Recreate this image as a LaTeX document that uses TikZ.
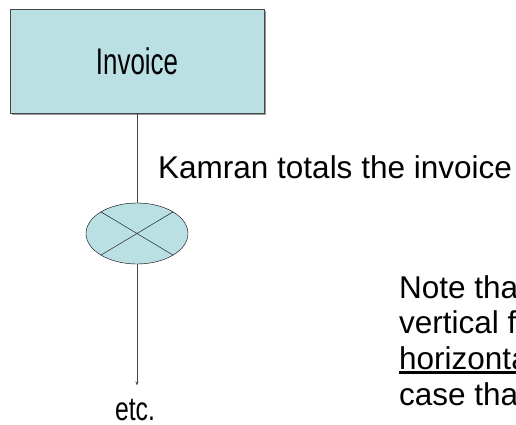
\documentclass[tikz,border=0pt]{standalone}
\usepackage{fontspec}
\setmainfont{Liberation Sans}
\usepackage{graphicx}
\usepackage{tikz}
\usetikzlibrary{shapes.geometric,shadows,arrows.meta}
\definecolor{paleblue}{RGB}{187, 224, 227}
\definecolor{lineg}{RGB}{70, 70, 70}

% thick underline as in the slide
\newcommand\thickul[1]{\setbox0\hbox{#1}\rlap{\rule[-4.3pt]{\wd0}{2.6pt}}\box0}

\tikzset{
  docbox/.style={draw=lineg, fill=paleblue, minimum width=254pt, minimum height=104pt,
    drop shadow={shadow xshift=2pt, shadow yshift=-2pt, fill=gray!80, opacity=1}},
  xcirc/.style={ellipse, draw=black, fill=paleblue, minimum width=102pt, minimum height=61pt, inner sep=0pt},
  flow/.style={draw=lineg, line width=0.7pt}
}

\begin{document}
\begin{tikzpicture}[x=1pt,y=-1pt]

\useasboundingbox (0,0) rectangle (516,424);
\clip (0,0) rectangle (516,424);

% Document box
\node[docbox] (invoice) at (137,61) {\fontsize{37}{40}\selectfont\scalebox{0.7}[1]{Invoice}};

% Exclusive-or symbol
\node[xcirc] (xor) at (137,233.5) {};
\draw (xor.north west) -- (xor.south east);
\draw (xor.north east) -- (xor.south west);

% Bottom label
\node[anchor=base, inner sep=0pt] (etc) at (135,420) {\fontsize{33}{36}\selectfont\scalebox{0.75}[1]{etc.}};

% Connectors
\draw[flow] (invoice) -- (xor);
\draw[flow, -{Stealth[length=4pt,width=3pt]}, shorten >=13pt] (xor.south) -- (xor.south |- etc.north);

% Side texts
\node[anchor=base west, inner sep=0pt] (step) at (158,178) {\fontsize{31.5}{36}\selectfont Kamran totals the invoice};
\node[anchor=north west, align=left, inner sep=0pt, font=\fontsize{31.5}{35.8}\selectfont] (note) at (399,275)
  {Note tha\\vertical f\\\thickul{horizonta}\\case tha};

\end{tikzpicture}
\end{document}
